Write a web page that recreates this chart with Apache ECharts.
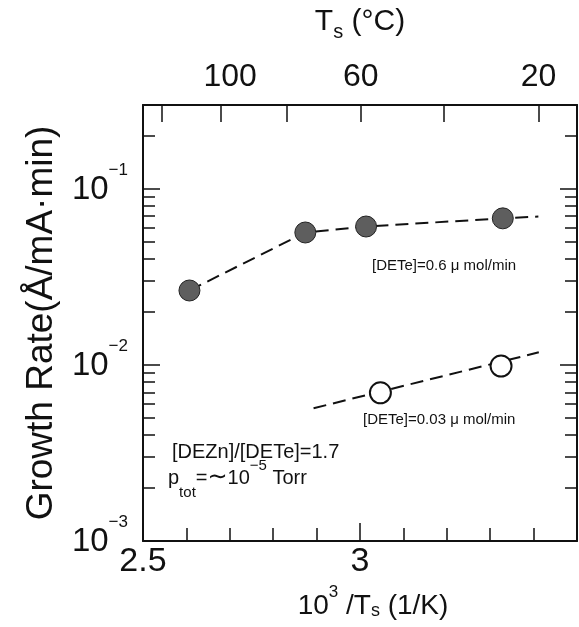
<!DOCTYPE html>
<html>
<head>
<meta charset="utf-8">
<script src="https://cdn.jsdelivr.net/npm/echarts@6/dist/echarts.min.js"></script>
<style>
  html, body { margin: 0; padding: 0; background: #fff; }
  #chart { width: 579px; height: 627px; }
</style>
</head>
<body>
<div id="chart"></div>
<script>
// Growth rate against inverse substrate temperature, two DETe flow rates.

// [DETe] = 0.6 µmol/min : measured points and the dashed guide through them
const highPoints = [[2.607, 0.0265], [2.874, 0.0566], [3.014, 0.0612], [3.329, 0.0681]];
const highGuide  = [[2.607, 0.0265], [2.874, 0.0566], [3.014, 0.0612], [3.329, 0.0681], [3.411, 0.0698]];

// [DETe] = 0.03 µmol/min
const lowPoints = [[3.047, 0.00695], [3.325, 0.00986]];
const lowGuide  = [[2.893, 0.00568], [3.412, 0.0118]];

// bottom axis (1000/T, 1/K)
const xMin = 2.5, xMax = 3.5;
const xLabelValues = [2.5, 3];

// growth-rate axis (log)
const yMin = 0.001, yMax = 0.3;
const yDecades = [0.001, 0.01, 0.1];
const yMinor = [0.002, 0.003, 0.004, 0.005, 0.006, 0.007, 0.008, 0.009,
                0.02, 0.03, 0.04, 0.05, 0.06, 0.07, 0.08, 0.09, 0.2];

// top axis, substrate temperature in °C
const tempTicksC  = [120, 100, 80, 60, 40, 20];
const tempLabelsC = [100, 60, 20];
const toInvT = c => 1000 / (c + 273.15);

const FONT = '"Liberation Sans", Arial, Helvetica, sans-serif';
const INK = '#111';

const chart = echarts.init(document.getElementById('chart'), null, { renderer: 'canvas' });

const frameLine = { show: true, onZero: false, lineStyle: { color: INK, width: 2 } };
const tickStyle = { color: INK, width: 1.5 };

function decadeLabel(v) {
  const e = Math.round(Math.log10(v));
  return '{b|10}{s|\u2212' + Math.abs(e) + '}';
}

// the "100" label sits a little to the right of its tick
function celsiusLabel(v) {
  const c = Math.round(1000 / v - 273.15);
  return c === 100 ? '{r|' + c + '}' : '{n|' + c + '}';
}

chart.setOption({
  animation: false,
  backgroundColor: '#fff',
  grid: { left: 143, right: 2, top: 105, bottom: 86, containLabel: false },
  xAxis: [
    {
      type: 'value', position: 'bottom', min: xMin, max: xMax, interval: 0.5,
      axisLine: frameLine,
      axisTick: { show: true, inside: true, length: 18, lineStyle: tickStyle },
      minorTick: { show: true, splitNumber: 5, length: 13, lineStyle: tickStyle },
      splitLine: { show: false },
      axisLabel: {
        customValues: xLabelValues, margin: 4,
        color: INK, fontFamily: FONT, fontSize: 34,
        formatter: v => String(v)
      },
      name: '{b|10}{sup|3}{b| /T}{sub|s}{b| (1/K)}',
      nameLocation: 'middle', nameGap: 41,
      nameTextStyle: {
        padding: [0, 0, 0, 26],
        rich: {
          b: { fontFamily: FONT, fontSize: 28, color: INK, verticalAlign: 'bottom' },
          sup: { fontFamily: FONT, fontSize: 17, color: INK, verticalAlign: 'bottom', padding: [0, 0, 19, 0] },
          sub: { fontFamily: FONT, fontSize: 18, color: INK, verticalAlign: 'bottom' }
        }
      }
    },
    {
      type: 'value', position: 'top', min: xMin, max: xMax,
      axisLine: frameLine,
      axisTick: { show: true, inside: true, length: 17, lineStyle: tickStyle,
                  customValues: tempTicksC.map(toInvT) },
      splitLine: { show: false },
      axisLabel: {
        customValues: tempLabelsC.map(toInvT), margin: 12,
        formatter: celsiusLabel,
        rich: {
          n: { fontFamily: FONT, fontSize: 32, color: INK },
          r: { fontFamily: FONT, fontSize: 32, color: INK, padding: [0, 0, 0, 18] }
        }
      },
      name: '{b|T}{sub|s}{b| (°C)}',
      nameLocation: 'middle', nameGap: 63,
      nameTextStyle: {
        rich: {
          b: { fontFamily: FONT, fontSize: 30, color: INK, verticalAlign: 'bottom', padding: [0, 0, 5, 0] },
          sub: { fontFamily: FONT, fontSize: 20, color: INK, verticalAlign: 'bottom' }
        }
      }
    }
  ],
  yAxis: [
    {
      type: 'log', logBase: 10, position: 'left', min: yMin, max: yMax,
      axisLine: frameLine,
      axisTick: { show: true, inside: true, length: 17, lineStyle: tickStyle, customValues: yDecades },
      splitLine: { show: false },
      axisLabel: {
        customValues: yDecades, margin: 15,
        formatter: decadeLabel,
        rich: {
          b: { fontFamily: FONT, fontSize: 33, color: INK, verticalAlign: 'bottom', padding: [12, 0, 10, 0] },
          s: { fontFamily: FONT, fontSize: 17, color: INK, verticalAlign: 'bottom', padding: [0, 0, 38, 0] }
        }
      },
      name: 'Growth Rate(Å/mA·min)',
      nameLocation: 'middle', nameGap: 83, nameRotate: 90,
      nameTextStyle: { fontFamily: FONT, fontSize: 37, color: INK }
    },
    {
      type: 'log', logBase: 10, position: 'left', min: yMin, max: yMax,
      axisLine: { show: false },
      axisTick: { show: true, inside: true, length: 12, lineStyle: tickStyle, customValues: yMinor },
      axisLabel: { show: false },
      splitLine: { show: false }
    },
    {
      type: 'log', logBase: 10, position: 'right', min: yMin, max: yMax,
      axisLine: frameLine,
      axisTick: { show: true, inside: true, length: 17, lineStyle: tickStyle, customValues: yDecades },
      axisLabel: { show: false },
      splitLine: { show: false }
    },
    {
      type: 'log', logBase: 10, position: 'right', min: yMin, max: yMax,
      axisLine: { show: false },
      axisTick: { show: true, inside: true, length: 12, lineStyle: tickStyle, customValues: yMinor },
      axisLabel: { show: false },
      splitLine: { show: false }
    }
  ],
  series: [
    {
      name: 'guide 0.6', type: 'line', xAxisIndex: 0, yAxisIndex: 0,
      data: highGuide, showSymbol: false, symbol: 'none', z: 2,
      lineStyle: { color: INK, width: 2, type: [13, 7] }
    },
    {
      name: 'guide 0.03', type: 'line', xAxisIndex: 0, yAxisIndex: 0,
      data: lowGuide, showSymbol: false, symbol: 'none', z: 2,
      lineStyle: { color: INK, width: 2, type: [13, 7] }
    },
    {
      name: '[DETe]=0.6', type: 'scatter', xAxisIndex: 0, yAxisIndex: 0,
      data: highPoints, symbol: 'circle', symbolSize: 21, z: 5,
      itemStyle: { color: '#5e5e5e', borderColor: '#222', borderWidth: 1, opacity: 1 }
    },
    {
      name: '[DETe]=0.03', type: 'scatter', xAxisIndex: 0, yAxisIndex: 0,
      data: lowPoints, symbol: 'circle', symbolSize: 21, z: 5,
      itemStyle: { color: '#fff', borderColor: INK, borderWidth: 2, opacity: 1 }
    }
  ],
  graphic: [
    {
      type: 'text', x: 372, y: 258, z: 10,
      style: { text: '[DETe]=0.6 \u03bc mol/min', fontFamily: FONT, fontSize: 15, fill: INK,
               align: 'left', verticalAlign: 'top' }
    },
    {
      type: 'text', x: 363, y: 412, z: 10,
      style: { text: '[DETe]=0.03 \u03bc mol/min', fontFamily: FONT, fontSize: 15, fill: INK,
               align: 'left', verticalAlign: 'top' }
    },
    {
      type: 'text', x: 172, y: 442, z: 10,
      style: { text: '[DEZn]/[DETe]=1.7', fontFamily: FONT, fontSize: 20, fill: INK,
               align: 'left', verticalAlign: 'top' }
    },
    {
      type: 'text', x: 168, y: 458, z: 10,
      style: {
        text: '{b|p}{sub|tot}{b|=}{t|\u223c}{b|10}{sup|\u22125}{b| Torr}',
        align: 'left', verticalAlign: 'top',
        rich: {
          b: { fontFamily: FONT, fontSize: 20, fill: INK, verticalAlign: 'bottom', padding: [0, 0, 12, 0] },
          t: { fontFamily: '"DejaVu Sans", sans-serif', fontSize: 24, fill: INK, verticalAlign: 'bottom', padding: [0, 0, 10, 0] },
          sub: { fontFamily: FONT, fontSize: 15, fill: INK, verticalAlign: 'bottom' },
          sup: { fontFamily: FONT, fontSize: 15, fill: INK, verticalAlign: 'bottom', padding: [0, 0, 27, 0] }
        }
      }
    }
  ]
});
</script>
</body>
</html>
